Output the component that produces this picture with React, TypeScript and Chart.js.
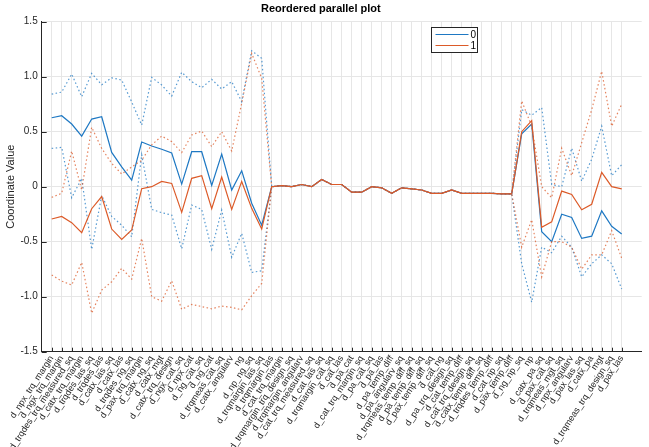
import React, { useEffect, useRef } from "react";
import { Chart, registerables } from "chart.js";

Chart.register(...registerables);

// Variables in the reordered coordinate order
const variables = [
  "d_npx_trq_margin", "d_ngx_trq_margin", "d_trqdes_trq_measured_sq", "d_catx_trq_margin",
  "d_trqdes_las_sq", "d_trqdes_las", "d_catx_las_sq", "d_catx_las", "d_trqdes_ng_sq",
  "d_pax_trq_margin", "d_catx_ng_sq", "d_catx_mgt", "d_catx_trq_design", "d_ngx_cat_sq",
  "d_npx_cat", "d_ng_cat_sq", "d_ng_cat", "d_trqmeas_cat_sq", "d_catx_angularv", "ng",
  "d_np_ng_sq", "d_trqmargin_las_sq", "d_trqmargin_las", "d_cat_trq_margin",
  "d_trqmargin_trq_design_sq", "d_trqmargin_angularv", "d_cat_trq_measured_sq", "d_cat_las_sq",
  "d_trqmargin_cat_sq", "d_cat_las", "d_pa_cat", "d_cat_trq_margin_sq", "d_pa_cat_sq",
  "d_pa_las", "d_pa_temp_diff", "d_pa_angularv_sq", "d_trqmeas_temp_diff_sq",
  "d_pa_temp_diff_sq", "d_pax_temp_diff_sq", "d_cat_ng", "d_pa_trq_design_sq",
  "d_cat_temp_diff", "d_cat_trq_design_sq", "d_catx_temp_diff_sq", "d_trqdes_temp_diff",
  "d_cat_np_sq", "d_pax_temp_diff", "d_ng_np_sq", "np", "d_catx_pa_sq", "d_pax_cat_sq",
  "d_trqmeas_mgt_sq", "d_npx_angularv", "d_pax_las_sq", "d_catx_pa", "mgt",
  "d_trqmeas_trq_design_sq", "d_pax_las",
];

const groupNames = ["0", "1"];

// Group 0: median and quantile bounds per coordinate
const g0Median = [
  0.627, 0.645, 0.57, 0.46, 0.615, 0.636, 0.312, 0.18, 0.06, 0.406,
  0.37, 0.34, 0.306, 0.024, 0.318, 0.318, 0.012, 0.297, -0.03, 0.145,
  -0.15, -0.35, 0, 0.01, 0, 0.02, 0, 0.065, 0.02, 0.02,
  -0.05, -0.05, 0, -0.01, -0.06, -0.01, -0.02, -0.03, -0.06, -0.06,
  -0.03, -0.06, -0.06, -0.06, -0.06, -0.065, -0.065, 0.48, 0.57, -0.41,
  -0.5, -0.25, -0.28, -0.47, -0.45, -0.22, -0.36, -0.43,
];
const g0Upper = [
  0.842, 0.86, 1.024, 0.818, 1.03, 0.927, 0.99, 0.97, 0.77, 0.56,
  0.994, 0.924, 0.824, 1.04, 0.955, 0.9, 0.976, 0.888, 0.955, 0.773,
  1.236, 1.167, 0, 0.01, 0, 0.02, 0, 0.065, 0.02, 0.02,
  -0.05, -0.05, 0, -0.01, -0.06, -0.01, -0.02, -0.03, -0.06, -0.06,
  -0.03, -0.06, -0.06, -0.06, -0.06, -0.065, -0.065, 0.7, 0.65, 0.72,
  0.02, 0.0, 0.35, 0.05, 0.25, 0.55, 0.1, 0.2,
];
const g0Lower = [
  0.348, 0.358, -0.1, 0.076, -0.57, -0.08, -0.27, -0.35, -0.455, 0.29,
  -0.206, -0.236, -0.258, -0.564, -0.167, -0.206, -0.57, -0.212, -0.642, -0.424,
  -0.78, -0.764, 0, 0.01, 0, 0.02, 0, 0.065, 0.02, 0.02,
  -0.05, -0.05, 0, -0.01, -0.06, -0.01, -0.02, -0.03, -0.06, -0.06,
  -0.03, -0.06, -0.06, -0.06, -0.06, -0.065, -0.065, -0.7, -1.05, -0.55,
  -0.6, -0.45, -0.55, -0.82, -0.7, -0.62, -0.7, -0.93,
];

// Group 1: median and quantile bounds per coordinate
const g1Median = [
  -0.294, -0.27, -0.327, -0.418, -0.2, -0.09, -0.385, -0.48, -0.394, -0.018,
  0, 0.048, 0.03, -0.233, 0.076, 0.1, -0.2, 0.088, -0.206, 0.048,
  -0.197, -0.385, 0, 0.01, 0, 0.02, 0, 0.065, 0.02, 0.02,
  -0.05, -0.05, 0, -0.01, -0.06, -0.01, -0.02, -0.03, -0.06, -0.06,
  -0.03, -0.06, -0.06, -0.06, -0.06, -0.065, -0.065, 0.5, 0.6, -0.37,
  -0.32, -0.04, -0.07, -0.21, -0.16, 0.13, 0.0, -0.02,
];
const g1Upper = [
  -0.097, -0.06, 0.324, -0.03, 0.54, 0.348, 0.212, 0.115, 0.18, 0.24,
  0.38, 0.46, 0.41, 0.31, 0.47, 0.506, 0.364, 0.5, 0.324, 0.758,
  1.212, 0.985, 0, 0.01, 0, 0.02, 0, 0.065, 0.02, 0.02,
  -0.05, -0.05, 0, -0.01, -0.06, -0.01, -0.02, -0.03, -0.06, -0.06,
  -0.03, -0.06, -0.06, -0.06, -0.06, -0.065, -0.065, 0.78, 0.55, 0.0,
  -0.1, 0.35, 0.1, 0.4, 0.7, 1.05, 0.55, 0.75,
];
const g1Lower = [
  -0.803, -0.858, -0.894, -0.688, -1.15, -0.94, -0.864, -0.742, -0.84, -0.47,
  -1.0, -1.04, -0.855, -1.115, -1.07, -1.09, -1.11, -1.085, -1.097, -1.12,
  -0.99, -0.88, 0, 0.01, 0, 0.02, 0, 0.065, 0.02, 0.02,
  -0.05, -0.05, 0, -0.01, -0.06, -0.01, -0.02, -0.03, -0.06, -0.06,
  -0.03, -0.06, -0.06, -0.06, -0.06, -0.065, -0.065, -0.55, -0.3, -0.82,
  -0.5, -0.5, -0.55, -0.75, -0.62, -0.62, -0.4, -0.65,
];

const BLUE = "rgb(30,120,195)";
const BLUE_DOT = "rgba(30,120,195,0.75)";
const ORANGE = "rgb(220,90,40)";
const ORANGE_DOT = "rgba(220,90,40,0.75)";
const AXIS = "#262626";
const GRID = "#e6e6e6";
const FONT = "'Liberation Sans', Arial, Helvetica, sans-serif";

const toPoints = (vals: number[]) => vals.map((v, i) => ({ x: i + 1, y: v }));

// Tick marks that point into the plot area
const inwardTicks = {
  id: "inwardTicks",
  afterDraw(chart: any) {
    const { ctx, chartArea } = chart;
    const xs = chart.scales.x;
    const ys = chart.scales.y;
    ctx.save();
    ctx.strokeStyle = AXIS;
    ctx.lineWidth = 1;
    ctx.beginPath();
    xs.ticks.forEach((t: any) => {
      const px = Math.round(xs.getPixelForValue(t.value)) + 0.5;
      ctx.moveTo(px, chartArea.bottom);
      ctx.lineTo(px, chartArea.bottom - 4);
    });
    ys.ticks.forEach((t: any) => {
      const py = Math.round(ys.getPixelForValue(t.value)) + 0.5;
      ctx.moveTo(chartArea.left, py);
      ctx.lineTo(chartArea.left + 5, py);
    });
    ctx.stroke();
    ctx.restore();
  },
};

// Boxed legend placed inside the plot area
const boxLegend = {
  id: "boxLegend",
  afterDraw(chart: any) {
    const { ctx, chartArea } = chart;
    const left = Math.round(chartArea.left + 389) + 0.5;
    const top = Math.round(chartArea.top + 5) + 0.5;
    const w = 46;
    const h = 25;
    ctx.save();
    ctx.fillStyle = "#ffffff";
    ctx.fillRect(left, top, w, h);
    ctx.strokeStyle = AXIS;
    ctx.lineWidth = 1;
    ctx.strokeRect(left, top, w, h);
    const colors = [BLUE, ORANGE];
    ctx.font = `10px ${FONT}`;
    ctx.textBaseline = "middle";
    ctx.textAlign = "left";
    groupNames.forEach((name, i) => {
      const y = top + 7 + i * 11;
      ctx.strokeStyle = colors[i];
      ctx.beginPath();
      ctx.moveTo(left + 4, y);
      ctx.lineTo(left + 37, y);
      ctx.stroke();
      ctx.fillStyle = "#000000";
      ctx.fillText(name, left + 39, y + 0.5);
    });
    ctx.restore();
  },
};

export default function App() {
  const canvasRef = useRef<HTMLCanvasElement | null>(null);

  useEffect(() => {
    if (!canvasRef.current) return;
    const solid = (label: string, data: number[], color: string, order: number) => ({
      label,
      data: toPoints(data),
      borderColor: color,
      backgroundColor: color,
      borderWidth: 1.2,
      pointRadius: 0,
      tension: 0,
      order,
    });
    const dotted = (label: string, data: number[], color: string, order: number) => ({
      label,
      data: toPoints(data),
      borderColor: color,
      backgroundColor: color,
      borderWidth: 1.2,
      borderDash: [1.5, 2.5],
      pointRadius: 0,
      tension: 0,
      order,
    });

    const chart = new Chart(canvasRef.current, {
      type: "line",
      data: {
        datasets: [
          solid("0", g0Median, BLUE, 2),
          dotted("0 upper", g0Upper, BLUE_DOT, 3),
          dotted("0 lower", g0Lower, BLUE_DOT, 3),
          solid("1", g1Median, ORANGE, 0),
          dotted("1 upper", g1Upper, ORANGE_DOT, 1),
          dotted("1 lower", g1Lower, ORANGE_DOT, 1),
        ],
      },
      options: {
        animation: false,
        responsive: false,
        devicePixelRatio: 1,
        layout: { padding: { left: 0, right: 7.3, top: 0, bottom: 0 } },
        plugins: {
          legend: { display: false },
          tooltip: { enabled: false },
          title: {
            display: true,
            text: "Reordered parallel plot",
            color: "#000000",
            font: { family: FONT, size: 11, weight: "bold" },
            padding: { top: 2, bottom: 6.5 },
          },
        },
        scales: {
          x: {
            type: "linear",
            min: 0,
            max: 60,
            afterBuildTicks: (scale: any) => {
              scale.ticks = variables.map((_, i) => ({ value: i + 1 }));
            },
            afterFit: (scale: any) => {
              scale.height = 95.3;
            },
            ticks: {
              autoSkip: false,
              maxRotation: 57,
              minRotation: 57,
              padding: 2,
              color: AXIS,
              font: { family: FONT, size: 9 },
              callback: (v: any) => variables[Number(v) - 1] ?? "",
            },
            grid: { color: GRID, drawTicks: false },
            border: { color: AXIS, width: 1 },
          },
          y: {
            min: -1.5,
            max: 1.5,
            afterFit: (scale: any) => {
              scale.width = 41.7;
            },
            ticks: {
              stepSize: 0.5,
              padding: 4,
              color: AXIS,
              font: { family: FONT, size: 10 },
            },
            title: {
              display: true,
              text: "Coordinate Value",
              color: AXIS,
              font: { family: FONT, size: 11 },
              padding: { top: 4, bottom: 0 },
            },
            grid: { color: GRID, drawTicks: false },
            border: { color: AXIS, width: 1 },
          },
        },
      },
      plugins: [inwardTicks, boxLegend],
    } as any);

    return () => chart.destroy();
  }, []);

  return (
    <div style={{ position: "absolute", left: 0, top: 0, width: 649, height: 447, background: "#ffffff" }}>
      <canvas ref={canvasRef} width={649} height={447} />
    </div>
  );
}
